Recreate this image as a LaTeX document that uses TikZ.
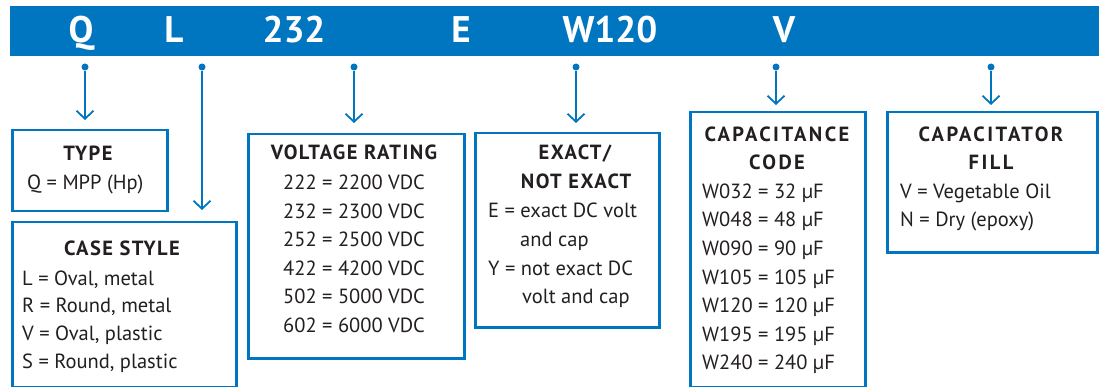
\documentclass[tikz,border=0pt]{standalone}
\usepackage{fontspec}
\setmainfont{PT Sans}
\newfontfamily\ttlfont{PT Sans}[LetterSpace=7]
\newfontfamily\ttlwide{PT Sans}[LetterSpace=12]
\usetikzlibrary{arrows.meta}
\definecolor{brand}{RGB}{0,118,192}
\definecolor{ink}{RGB}{35,31,32}
\begin{document}
\begin{tikzpicture}[x=1pt,y=-1pt,
  box/.style={draw=brand,line width=2.5pt,anchor=north west,inner sep=0pt},
  ttl/.style={font=\ttlfont\bfseries\fontsize{20.5}{24}\selectfont,text=ink,anchor=base,inner sep=0pt},
  ttlw/.style={font=\ttlwide\bfseries\fontsize{20.5}{24}\selectfont,text=ink,anchor=base,inner sep=0pt},
  txt/.style={font=\fontsize{20.5}{24}\selectfont,text=ink,anchor=base west,inner sep=0pt},
  bartxt/.style={font=\bfseries\fontsize{37}{42}\selectfont,text=white,anchor=base,inner sep=0pt},
  pin/.style={draw=brand,line width=1.8pt,-{Straight Barb[length=8pt,width=17pt]}},
  dotc/.style={circle,fill=brand,inner sep=0pt,minimum size=7pt}]
\useasboundingbox (0,0) rectangle (1099,387);
\fill[brand] (10,6) rectangle (1099,56);
% bar letters
\node[bartxt] (lq) at (81,43) {Q};
\node[bartxt] (ll) at (174,43) {L};
\node[bartxt] (l232) at (294,43) {232};
\node[bartxt] (le) at (461,43) {E};
\node[bartxt] (lw) at (610,43) {W120};
\node[bartxt] (lv) at (784,43) {V};
% boxes
\node[box,minimum width=155pt,minimum height=81pt] (type) at (11,129) {};
\node[box,minimum width=224pt,minimum height=165pt] (case) at (11,221) {};
\node[box,minimum width=216pt,minimum height=224pt] (volt) at (247,133) {};
\node[box,minimum width=184pt,minimum height=194pt] (exact) at (474,132) {};
\node[box,minimum width=175pt,minimum height=275pt] (cap) at (689,111) {};
\node[box,minimum width=210pt,minimum height=140pt] (fill) at (886,111) {};
% dots
\node[dotc] (dq) at (85,67) {};
\node[dotc] (dl) at (202,67) {};
\node[dotc] (d232) at (354,67) {};
\node[dotc] (de) at (576,67) {};
\node[dotc] (dw) at (776,67) {};
\node[dotc] (dv) at (991,67) {};
% connectors
\draw[pin,shorten >=9pt] (dq) -- (dq |- type.north);
\draw[pin,shorten >=11pt] (dl) -- (dl |- case.north);
\draw[pin,shorten >=10pt] (d232) -- (d232 |- volt.north);
\draw[pin,shorten >=9pt] (de) -- (de |- exact.north);
\draw[pin,shorten >=6pt] (dw) -- (dw |- cap.north);
\draw[pin,shorten >=6pt] (dv) -- (dv |- fill.north);
% TYPE
\node[ttl] (t1) at (88,161) {TYPE};
\node[txt] (t2) at (27,190) {Q = MPP (Hp)};
% CASE STYLE
\node[ttl] (c0) at (122,255) {CASE STYLE};
\node[txt] (c1) at (22,285) {L = Oval, metal};
\node[txt] (c2) at (22,312.5) {R = Round, metal};
\node[txt] (c3) at (22,340) {V = Oval, plastic};
\node[txt] (c4) at (22,368) {S = Round, plastic};
% VOLTAGE
\node[ttl] (v0) at (354,160) {VOLTAGE RATING};
\node[txt] (v1) at (283,190) {222 = 2200 VDC};
\node[txt] (v2) at (283,218.4) {232 = 2300 VDC};
\node[txt] (v3) at (283,246.8) {252 = 2500 VDC};
\node[txt] (v4) at (283,275.2) {422 = 4200 VDC};
\node[txt] (v5) at (283,303.6) {502 = 5000 VDC};
\node[txt] (v6) at (283,332) {602 = 6000 VDC};
% EXACT
\node[ttl] (e0) at (575,160) {EXACT/};
\node[ttl] (e1) at (576,189) {NOT EXACT};
\node[txt] (e2) at (488,218) {E = exact DC volt};
\node[txt] (e3) at (520,247) {and cap};
\node[txt] (e4) at (488,275) {Y = not exact DC};
\node[txt] (e5) at (522,303) {volt and cap};
% CAPACITANCE
\node[ttlw] (k0) at (777,142) {CAPACITANCE};
\node[ttlw] (k1) at (777,170) {CODE};
\node[txt] (k2) at (702,198.5) {W032 = 32 µF};
\node[txt] (k3) at (702,227) {W048 = 48 µF};
\node[txt] (k4) at (702,255.5) {W090 = 90 µF};
\node[txt] (k5) at (702,284) {W105 = 105 µF};
\node[txt] (k6) at (702,312.5) {W120 = 120 µF};
\node[txt] (k7) at (702,341) {W195 = 195 µF};
\node[txt] (k8) at (702,369.5) {W240 = 240 µF};
% FILL
\node[ttlw] (f0) at (991,142) {CAPACITATOR};
\node[ttlw] (f1) at (991,170) {FILL};
\node[txt] (f2) at (900,198.5) {V = Vegetable Oil};
\node[txt] (f3) at (900,227) {N = Dry (epoxy)};
\end{tikzpicture}
\end{document}
